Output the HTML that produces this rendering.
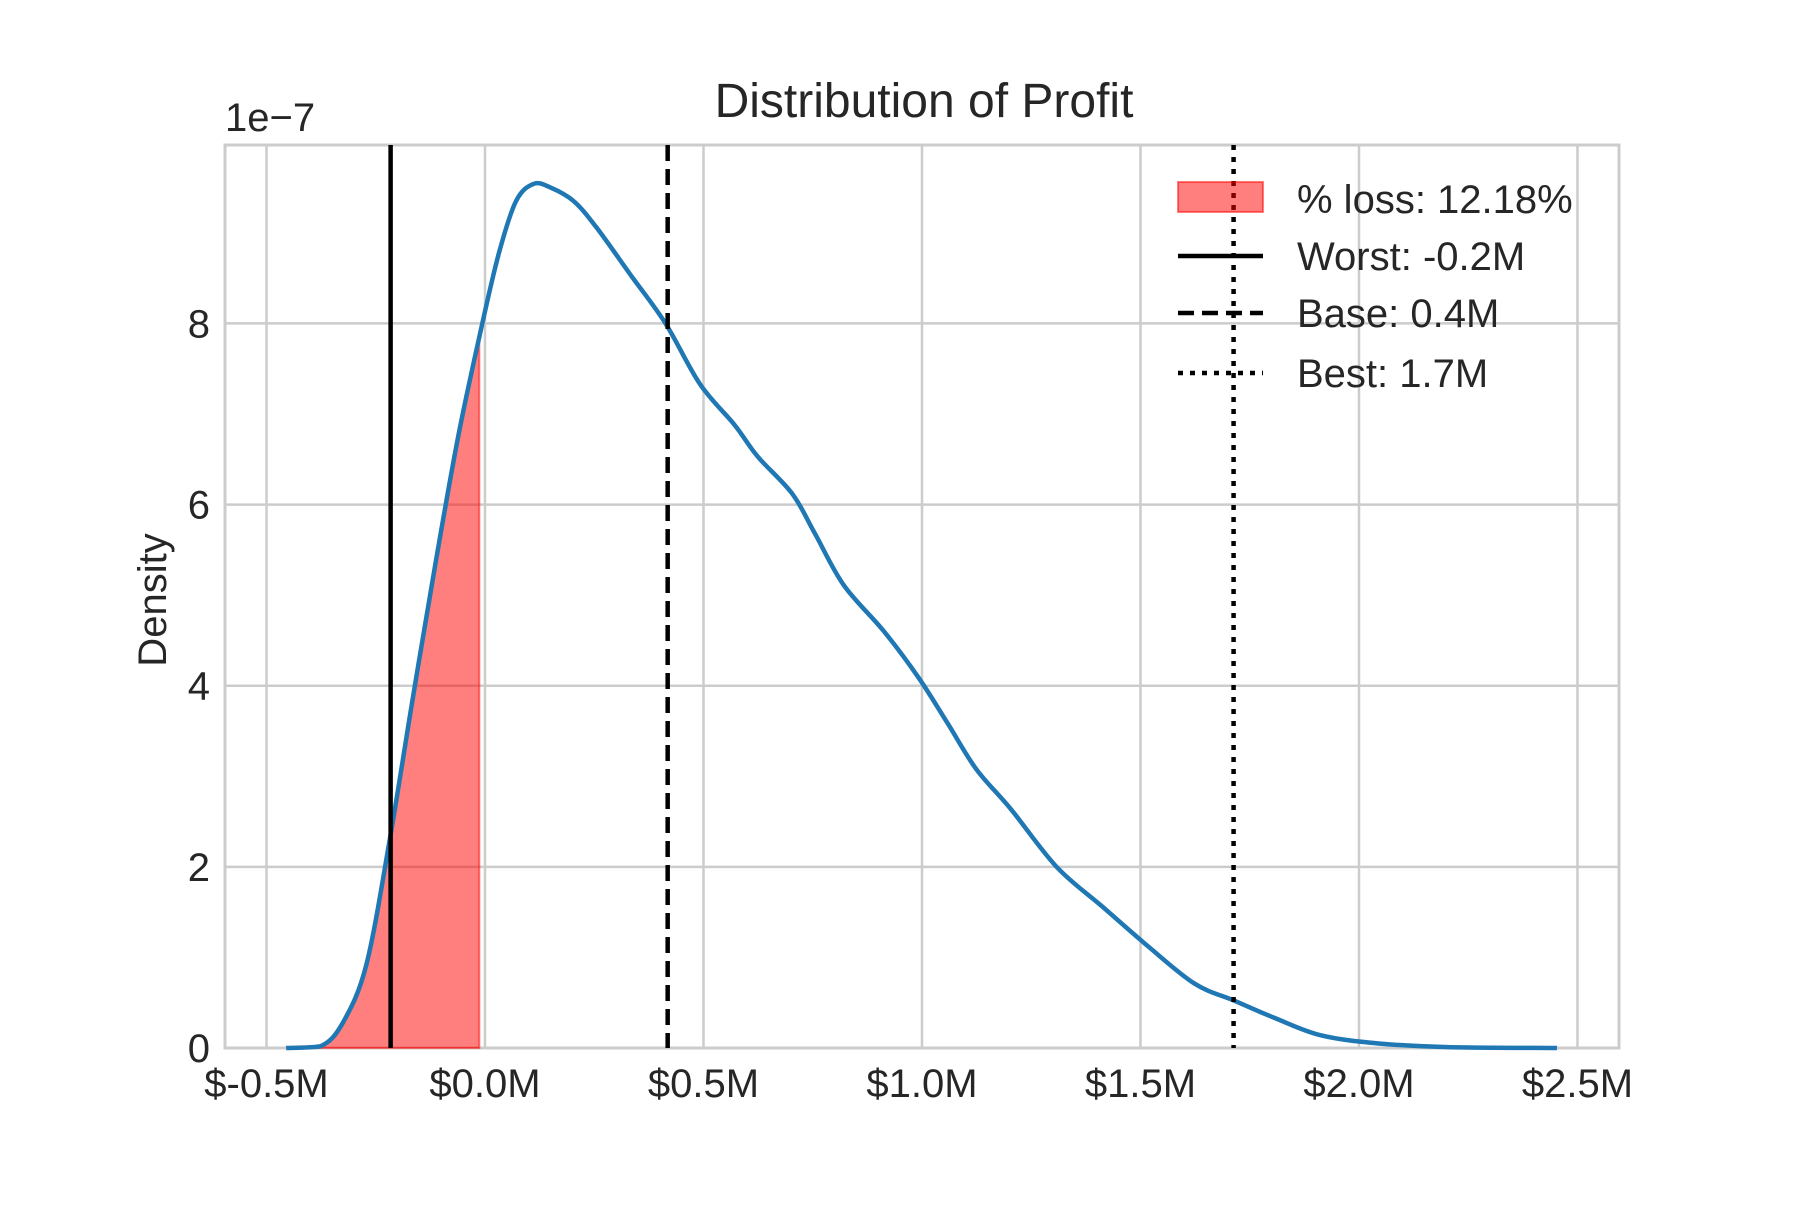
<!DOCTYPE html>
<html><head><meta charset="utf-8"><style>
html,body{margin:0;padding:0;background:#fff;}
svg text{font-family:"Liberation Sans",Arial,sans-serif;fill:#262626;}
</style></head><body>
<svg id="chart" width="1800" height="1200" viewBox="0 0 1800 1200" xmlns="http://www.w3.org/2000/svg">
<rect width="1800" height="1200" fill="#fff"/>
<g id="grid"></g>
<g id="fill"></g>
<g id="curve"></g>
<g id="vlines"></g>
<g id="ticks"></g>
<text x="924" y="117" font-size="48" text-anchor="middle">Distribution of Profit</text>
<text x="225" y="131" font-size="40">1e−7</text>
<text x="0" y="0" font-size="40" text-anchor="middle" transform="translate(166,600) rotate(-90)">Density</text>
<g id="legend"></g>
</svg>
<script>
const xTicks = [-0.5, 0, 0.5, 1.0, 1.5, 2.0, 2.5];
const xTickLabels = ["$-0.5M","$0.0M","$0.5M","$1.0M","$1.5M","$2.0M","$2.5M"];
const yTicks = [0, 2, 4, 6, 8];
const yTickLabels = ["0","2","4","6","8"];
const profitM = [-0.455,-0.376,-0.324,-0.271,-0.218,-0.166,-0.113,-0.061,-0.008,0.032,0.071,0.111,0.15,0.203,0.255,0.334,0.413,0.492,0.571,0.624,0.703,0.755,0.821,0.913,0.992,1.058,1.124,1.203,1.308,1.413,1.518,1.624,1.716,1.808,1.913,2.045,2.203,2.453];
const density = [0,0.02,0.29,0.93,2.3,3.84,5.36,6.76,7.96,8.78,9.35,9.54,9.5,9.35,9.06,8.53,8.0,7.33,6.88,6.53,6.12,5.68,5.11,4.6,4.09,3.59,3.08,2.64,2.0,1.56,1.12,0.71,0.52,0.33,0.14,0.05,0.01,0];
const lossCutoff = -0.013;
const scenarioValues = [-0.216, 0.418, 1.713];
const legendLabels = ["% loss: 12.18%","Worst: -0.2M","Base: 0.4M","Best: 1.7M"];

const L=225,R=1619,T=145,B=1048;
const xMin=-0.595,xMax=2.595,yMin=0,yMax=9.97;
const X=v=>L+(v-xMin)/(xMax-xMin)*(R-L);
const Y=v=>B-(v-yMin)/(yMax-yMin)*(B-T);
const NS="http://www.w3.org/2000/svg";
function mk(tag,attrs,parent){const e=document.createElementNS(NS,tag);for(const k in attrs)e.setAttribute(k,attrs[k]);parent.appendChild(e);return e;}

const grid=document.getElementById('grid');
xTicks.forEach(t=>{const l=mk('line',{x1:X(t),x2:X(t),y1:T,y2:B,stroke:'#cccccc','stroke-width':2.5},grid);

});
yTicks.forEach(t=>{const l=mk('line',{x1:L,x2:R,y1:Y(t),y2:Y(t),stroke:'#cccccc','stroke-width':2.5},grid);

});
const frame=mk('rect',{x:L,y:T,width:R-L,height:B-T,fill:'none',stroke:'#cccccc','stroke-width':3},grid);



const Y0=Y(0);
function smoothPath(pts){let d='M'+pts[0][0]+','+pts[0][1];
for(let i=0;i<pts.length-1;i++){const p0=pts[Math.max(0,i-1)],p1=pts[i],p2=pts[i+1],p3=pts[Math.min(pts.length-1,i+2)];
const c1x=p1[0]+(p2[0]-p0[0])/6,c1y=Math.min(Y0,p1[1]+(p2[1]-p0[1])/6),c2x=p2[0]-(p3[0]-p1[0])/6,c2y=Math.min(Y0,p2[1]-(p3[1]-p1[1])/6);
d+=' C'+c1x+','+c1y+' '+c2x+','+c2y+' '+p2[0]+','+p2[1];}return d;}
function interp(x){for(let i=0;i<profitM.length-1;i++){if(x>=profitM[i]&&x<=profitM[i+1]){const f=(x-profitM[i])/(profitM[i+1]-profitM[i]);return density[i]+f*(density[i+1]-density[i]);}}return 0;}

const pts=profitM.map((v,i)=>[X(v),Y(density[i])]);
const fpts=[];for(let i=0;i<profitM.length&&profitM[i]<lossCutoff;i++)fpts.push(pts[i]);
fpts.push([X(lossCutoff),Y(interp(lossCutoff))]);
const fd=smoothPath(fpts)+' L'+X(lossCutoff)+','+Y(0)+' L'+X(profitM[0])+','+Y(0)+' Z';
const fp=mk('path',{d:fd,fill:'#ff0000','fill-opacity':0.5,stroke:'#ff0000','stroke-opacity':0.5,'stroke-width':2},document.getElementById('fill'));



const cp=mk('path',{d:smoothPath(pts),fill:'none',stroke:'#1f77b4','stroke-width':4.5,'stroke-linejoin':'round'},document.getElementById('curve'));



const dashes=['none','16,8','5,7'];
const vnames=['worst-line','base-line','best-line'];
const vg=document.getElementById('vlines');
scenarioValues.forEach((v,i)=>{const l=mk('line',{x1:X(v),x2:X(v),y1:T,y2:B,stroke:'#000','stroke-width':4.5,'stroke-dasharray':dashes[i]},vg);

});

const tg=document.getElementById('ticks');
xTicks.forEach((t,i)=>{const e=mk('text',{x:X(t),y:1097,'font-size':40,'text-anchor':'middle'},tg);e.textContent=xTickLabels[i];

});
yTicks.forEach((t,i)=>{const e=mk('text',{x:210,y:Y(t)+14,'font-size':40,'text-anchor':'end'},tg);e.textContent=yTickLabels[i];

});

const lg=document.getElementById('legend');
const rows=[199,256,313,373];
const pr=mk('rect',{x:1178,y:182,width:85,height:30,fill:'#ff0000','fill-opacity':0.5,stroke:'#ff0000','stroke-opacity':0.5,'stroke-width':2},lg);


for(let i=0;i<3;i++){const l=mk('line',{x1:1178,x2:1263,y1:rows[i+1],y2:rows[i+1],stroke:'#000','stroke-width':4.5,'stroke-dasharray':dashes[i]},lg);

}
legendLabels.forEach((s,i)=>{const e=mk('text',{x:1297,y:rows[i]+14,'font-size':40},lg);e.textContent=s;

});
</script>
</body></html>
